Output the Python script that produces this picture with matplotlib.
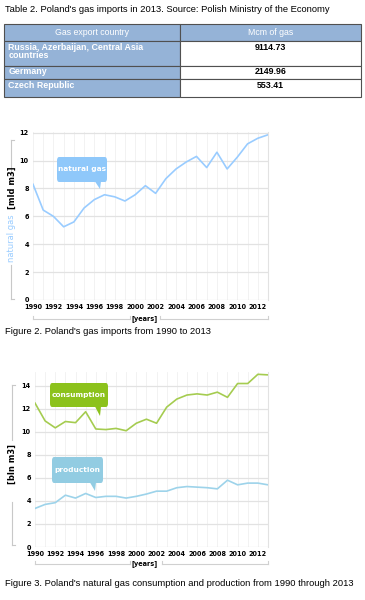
import matplotlib
matplotlib.use("Agg")
import matplotlib.pyplot as plt
from matplotlib.patches import FancyBboxPatch, Polygon
from matplotlib.lines import Line2D

# ---- data ----
table_title = "Table 2. Poland's gas imports in 2013. Source: Polish Ministry of the Economy"
col_labels = ["Gas export country", "Mcm of gas"]
countries = ["Russia, Azerbaijan, Central Asia\ncountries", "Germany", "Czech Republic"]
volumes = ["9114.73", "2149.96", "553.41"]

years = list(range(1990, 2014))
imports = [8.3, 6.45, 6.0, 5.25, 5.6, 6.6, 7.2, 7.55, 7.4, 7.1, 7.55, 8.2, 7.65,
           8.7, 9.4, 9.9, 10.3, 9.5, 10.6, 9.4, 10.25, 11.2, 11.6, 11.85]
consumption = [12.5, 10.95, 10.35, 10.9, 10.8, 11.75, 10.25, 10.2, 10.3, 10.1, 10.75, 11.1, 10.75,
               12.15, 12.85, 13.2, 13.3, 13.2, 13.45, 13.0, 14.2, 14.2, 15.0, 14.95]
production = [3.35, 3.7, 3.85, 4.5, 4.25, 4.65, 4.3, 4.4, 4.4, 4.25, 4.4, 4.6, 4.85,
              4.85, 5.15, 5.25, 5.2, 5.15, 5.05, 5.8, 5.4, 5.55, 5.55, 5.4]

fig2_caption = "Figure 2. Poland's gas imports from 1990 to 2013"
fig3_caption = "Figure 3. Poland's natural gas consumption and production from 1990 through 2013"

W, H = 365, 600
fig = plt.figure(figsize=(W / 100, H / 100), dpi=100)
fig.patch.set_facecolor("white")

def fx(x):
    return x / W

def fy(y):
    return 1 - y / H

head_blue = "#95B3D7"
imp_col = "#99CCFF"
cons_col = "#A5CC50"
prod_col = "#9DD3EA"
tick_font = dict(family="DejaVu Sans", weight="bold", size=4.7)
cap_size = 6.75

# ---- table ----
fig.text(fx(5), fy(9), table_title, family="Liberation Sans", size=cap_size, va="center", ha="left")
tab_ax = fig.add_axes([fx(4), fy(97), fx(361) - fx(4), fy(24) - fy(97)])
tab_ax.axis("off")
rows = [col_labels] + [[c, v] for c, v in zip(countries, volumes)]
row_h = [17, 25, 13, 18]
total = sum(row_h)
top = 1.0
for i, (r, h) in enumerate(zip(rows, row_h)):
    hh = h / total
    for j, txt in enumerate(r):
        x0 = 0 if j == 0 else 176 / 357
        w = 176 / 357 if j == 0 else 1 - 176 / 357
        fc = head_blue if (i == 0 or j == 0) else "white"
        tab_ax.add_patch(plt.Rectangle((x0, top - hh), w, hh, facecolor=fc, clip_on=False,
                                       edgecolor="#505050", lw=0.8, transform=tab_ax.transAxes))
        if i == 0:
            tab_ax.text(x0 + w / 2, top - hh / 2, txt, color="white", ha="center", va="center",
                        family="Liberation Sans", size=6.3)
        elif j == 0:
            tab_ax.text(x0 + 0.012, top - 1.5 / total, txt, color="white", ha="left", va="top",
                        family="Liberation Sans", weight="bold", size=6.4, linespacing=0.95)
        else:
            tab_ax.text(x0 + w / 2, top - 1.5 / total, txt, color="black", ha="center", va="top",
                        family="Liberation Sans", weight="bold", size=6.4)
    top -= hh


def style_axes(ax, ymax, yticks):
    ax.set_xlim(1990, 2013)
    ax.set_ylim(0, ymax)
    ax.set_xticks(range(1990, 2013, 2))
    ax.set_xticks(years, minor=True)
    ax.set_yticks(yticks)
    ax.grid(True, which="major", axis="y", color="#E2E2E2", lw=0.9)
    ax.grid(True, which="minor", axis="x", color="#F0F0F0", lw=0.6)
    ax.grid(True, which="major", axis="x", color="#F0F0F0", lw=0.6)
    for s in ["top", "bottom", "left"]:
        ax.spines[s].set_visible(False)
    ax.spines["right"].set_color("#E2E2E2")
    ax.tick_params(which="both", length=0, pad=3)
    for lab in ax.get_xticklabels() + ax.get_yticklabels():
        lab.set_fontfamily(tick_font["family"])
        lab.set_fontweight(tick_font["weight"])
        lab.set_fontsize(tick_font["size"])
    ax.set_axisbelow(True)


def bubble(x0, y0, x1, y1, tip, color, text):
    box = FancyBboxPatch((fx(x0), fy(y1)), fx(x1) - fx(x0), fy(y0) - fy(y1),
                         boxstyle="round,pad=0,rounding_size=0.006", transform=fig.transFigure,
                         facecolor=color, edgecolor="none", zorder=5)
    fig.patches.append(box)
    tx, ty = tip
    tri = Polygon([(fx(tx - 5), fy(y1 - 0.5)), (fx(tx + 1), fy(y1 - 0.5)), (fx(tx), fy(ty))],
                  closed=True, transform=fig.transFigure, facecolor=color, edgecolor="none", zorder=5)
    fig.patches.append(tri)
    fig.text(fx((x0 + x1) / 2), fy((y0 + y1) / 2), text, color="white", ha="center", va="center",
             family="DejaVu Sans", weight="bold", size=5.3, zorder=6)


def vbracket(x, y0, y1, tick_top):
    fig.add_artist(Line2D([fx(x), fx(x)], [fy(y0), fy(y1)], color="#C8C8C8", lw=0.8))
    ty = y0 if tick_top else y1
    fig.add_artist(Line2D([fx(x), fx(x + 3)], [fy(ty), fy(ty)], color="#C8C8C8", lw=0.8))


def hbracket(x0, x1, y):
    fig.add_artist(Line2D([fx(x0), fx(x1)], [fy(y), fy(y)], color="#D0D0D0", lw=0.8))
    for x in (x0, x1):
        fig.add_artist(Line2D([fx(x), fx(x)], [fy(y), fy(y - 3)], color="#D0D0D0", lw=0.8))


# ---- figure 2 ----
ax2 = fig.add_axes([fx(33), fy(300), fx(268) - fx(33), fy(132) - fy(300)])
ax2.plot(years, imports, color=imp_col, lw=1.2)
style_axes(ax2, 12.05, range(0, 13, 2))
vbracket(11, 140, 175, True)
vbracket(11, 265, 299, False)
fig.text(fx(12), fy(262), "natural gas", rotation=90, color=imp_col, ha="center", va="bottom",
         family="DejaVu Sans", size=6.0)
fig.text(fx(12), fy(209), "[mld m3]", rotation=90, color="black", ha="center", va="bottom",
         family="DejaVu Sans", weight="bold", size=6.0)
hbracket(33, 130, 319)
hbracket(160, 268, 319)
fig.text(fx(145), fy(319), "[years]", ha="center", va="center", **tick_font)
bubble(57, 157, 107, 182, (100, 189), "#8FC8FA", "natural gas")
fig.text(fx(5), fy(332), fig2_caption, family="Liberation Sans", size=cap_size, va="center")

# ---- figure 3 ----
ax3 = fig.add_axes([fx(35), fy(547), fx(268) - fx(35), fy(372) - fy(547)])
ax3.plot(years, consumption, color=cons_col, lw=1.2)
ax3.plot(years, production, color=prod_col, lw=1.2)
style_axes(ax3, 15.2, range(0, 15, 2))
vbracket(12, 385, 440, True)
vbracket(12, 502, 545, False)
fig.text(fx(12), fy(464), "[bln m3]", rotation=90, color="black", ha="center", va="center",
         family="DejaVu Sans", weight="bold", size=6.0)
hbracket(35, 130, 564)
hbracket(162, 268, 564)
fig.text(fx(145), fy(564), "[years]", ha="center", va="center", **tick_font)
bubble(50, 383, 108, 407, (100, 416), "#8CC21C", "consumption")
bubble(52, 457, 103, 483, (95, 491), "#92CCE2", "production")
fig.text(fx(5), fy(583), fig3_caption, family="Liberation Sans", size=cap_size, va="center")

fig.savefig("out.png", dpi=100)
